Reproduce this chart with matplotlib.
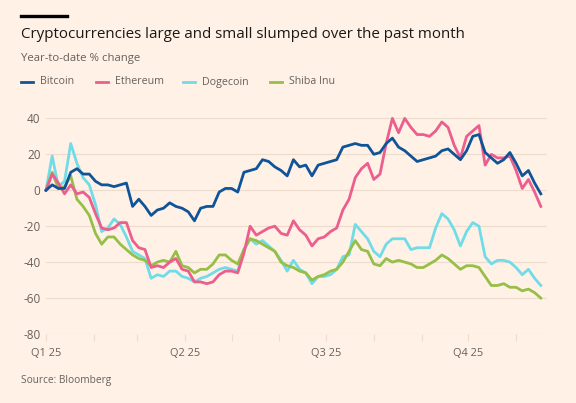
import matplotlib
matplotlib.use("Agg")
import matplotlib.pyplot as plt
import matplotlib.dates as mdates
import pandas as pd
import numpy as np

plt.rcParams['font.family'] = ['Open Sans', 'DejaVu Sans']

# ---- data (4-day samples from 1 Jan 2025) ----
start_date = "2025-01-01"
step = "4D"

bitcoin = [0, 3, 1, 1, 10, 12, 9, 9, 5, 3,
           3, 2, 3, 4, -9, -5, -9, -14, -11, -10,
           -7, -9, -10, -12, -17, -10, -9, -9, -1, 1,
           1, -1, 10, 11, 12, 17, 16, 13, 11, 8,
           17, 13, 14, 8, 14, 15, 16, 17, 24, 25,
           26, 25, 25, 20, 21, 26, 29, 24, 22, 19,
           16, 17, 18, 19, 22, 23, 20, 17, 22, 30,
           31, 21, 18, 15, 17, 21, 15, 8, 11, 4, -2]

ethereum = [0, 9, 4, -2, 3, -2, -1, -4, -13, -21,
            -22, -21, -18, -18, -28, -32, -33, -43, -42, -43,
            -40, -38, -44, -45, -51, -51, -52, -51, -47, -45,
            -45, -46, -35, -20, -25, -23, -21, -20, -24, -25,
            -17, -22, -25, -31, -27, -26, -23, -21, -11, -5,
            7, 12, 15, 6, 9, 26, 40, 32, 40, 35,
            31, 31, 30, 33, 38, 35, 25, 18, 30, 33,
            36, 14, 20, 18, 18, 19, 11, 1, 6, -1, -9]

dogecoin = [0, 19, 2, 5, 26, 15, 7, 3, -8, -23,
            -21, -16, -19, -26, -34, -36, -38, -49, -47, -48,
            -45, -45, -48, -49, -51, -49, -48, -46, -44, -43,
            -44, -45, -33, -27, -30, -28, -31, -34, -39, -45,
            -39, -44, -46, -52, -48, -48, -47, -44, -37, -36,
            -19, -23, -27, -34, -37, -30, -27, -27, -27, -33,
            -32, -32, -32, -21, -13, -16, -22, -31, -23, -18,
            -20, -37, -41, -39, -39, -40, -43, -47, -44, -49, -53]

shiba_inu = [0, 10, 1, 2, 8, -5, -9, -14, -24, -30,
             -26, -26, -30, -33, -36, -38, -39, -42, -40, -39,
             -40, -34, -42, -43, -46, -44, -44, -41, -36, -36,
             -39, -41, -33, -27, -28, -30, -32, -34, -40, -42,
             -43, -45, -46, -50, -48, -47, -45, -44, -40, -34,
             -28, -33, -34, -41, -42, -38, -40, -39, -40, -41,
             -43, -43, -41, -39, -36, -38, -41, -44, -42, -42,
             -43, -48, -53, -53, -52, -54, -54, -56, -55, -57, -60]

series_names = ["Bitcoin", "Ethereum", "Dogecoin", "Shiba Inu"]
y_ticks = [40, 20, 0, -20, -40, -60, -80]
x_tick_dates = ["2025-01-01", "2025-04-01", "2025-07-01", "2025-10-01"]
x_tick_labels = ["Q1 25", "Q2 25", "Q3 25", "Q4 25"]

title = "Cryptocurrencies large and small slumped over the past month"
subtitle = "Year-to-date % change"
source = "Source: Bloomberg"

# ---- styling ----
BG = "#FFF1E5"
colors = {"Bitcoin": "#0F5499", "Ethereum": "#EB5E8D",
          "Dogecoin": "#70DCE8", "Shiba Inu": "#96BF48"}
TEXT = "#1A1817"
GREY = "#66605C"
GRID = "#EDDCCD"

dates = pd.date_range(start_date, periods=len(bitcoin), freq=step)
values = {"Bitcoin": bitcoin, "Ethereum": ethereum,
          "Dogecoin": dogecoin, "Shiba Inu": shiba_inu}

W, H = 576, 403
fig = plt.figure(figsize=(W / 100, H / 100), dpi=100, facecolor=BG)
ax = fig.add_axes([46 / W, 1 - 334 / H, (547 - 46) / W, (334 - 104) / H])
ax.set_facecolor(BG)

zorders = {"Dogecoin": 2, "Shiba Inu": 3, "Ethereum": 4, "Bitcoin": 5}
for name in series_names:
    ax.plot(dates, values[name], color=colors[name], lw=2.0,
            zorder=zorders[name], solid_joinstyle="round", clip_on=False)

ax.set_ylim(-80, 48)
ax.set_xlim(pd.Timestamp("2025-01-01"), pd.Timestamp("2025-11-21"))
ax.set_yticks(y_ticks)
ax.set_yticklabels([str(v) for v in y_ticks])
ax.yaxis.grid(True, color=GRID, lw=0.8, zorder=0)
ax.set_axisbelow(True)

ax.set_xticks(pd.to_datetime(x_tick_dates))
ax.set_xticklabels(x_tick_labels)
ax.xaxis.set_minor_locator(mdates.MonthLocator())

for s in ax.spines.values():
    s.set_visible(False)

ax.tick_params(axis="y", length=0, pad=4, labelsize=8.5, labelcolor=GREY)
ax.tick_params(axis="x", which="major", length=5, width=0.8, color=GRID,
               pad=5, labelsize=7.9, labelcolor=GREY, direction="out")
ax.tick_params(axis="x", which="minor", length=5, width=0.8, color=GRID,
               direction="out")

# top black bar
fig.add_artist(plt.Line2D([21 / W, 67 / W], [1 - 15.5 / H, 1 - 15.5 / H],
                          color="#000000", lw=2.4, transform=fig.transFigure))

fig.text(21 / W, 1 - 34 / H, title, fontsize=10.9, color=TEXT, va="center", ha="left")
fig.text(21 / W, 1 - 58 / H, subtitle, fontsize=8.2, color=GREY, va="center", ha="left")

# legend
leg_x = [21, 96, 183, 270]
for name, lx in zip(series_names, leg_x):
    fig.add_artist(plt.Line2D([lx / W, (lx + 12) / W], [1 - 82 / H, 1 - 82 / H],
                              color=colors[name], lw=2.0, transform=fig.transFigure))
    fig.text((lx + 19) / W, 1 - 82 / H, name, fontsize=7.7, color=GREY,
             va="center", ha="left")

fig.text(21 / W, 1 - 381 / H, source, fontsize=7.3, color=GREY, va="center", ha="left")

fig.savefig("out.png", dpi=100, facecolor=BG)
